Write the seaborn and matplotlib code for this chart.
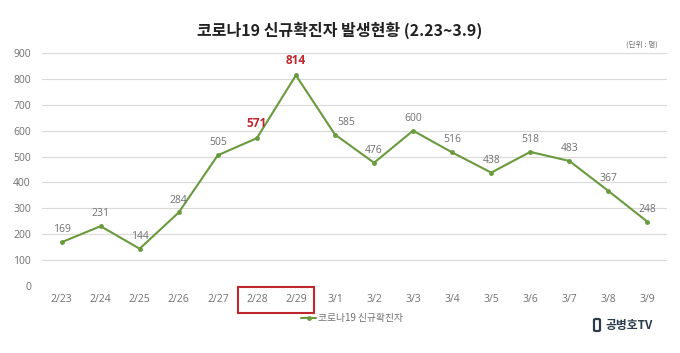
import matplotlib
matplotlib.use("Agg")
import matplotlib.pyplot as plt
import matplotlib.transforms as mtransforms
from matplotlib.patches import Rectangle, FancyBboxPatch
from matplotlib.lines import Line2D
import seaborn as sns
import pandas as pd

dates = ["2/23", "2/24", "2/25", "2/26", "2/27", "2/28", "2/29", "3/1",
         "3/2", "3/3", "3/4", "3/5", "3/6", "3/7", "3/8", "3/9"]
cases = [169, 231, 144, 284, 505, 571, 814, 585, 476, 600, 516, 438, 518, 483, 367, 248]
highlight = ["2/28", "2/29"]
series_name = "코로나19 신규확진자"
title = "코로나19 신규확진자 발생현황 (2.23~3.9)"
yticks = [0, 100, 200, 300, 400, 500, 600, 700, 800, 900]

sns.set_theme(style="white")
plt.rcParams['font.family'] = ['Open Sans', 'Noto Sans CJK KR', 'DejaVu Sans']

GREEN = "#6a9a3e"
GRAY = "#6f6f6f"
RED = "#c0262d"
NAVY = "#2b3a4e"
KR = ['Noto Sans CJK KR', 'DejaVu Sans']

df = pd.DataFrame({"date": dates, "cases": cases})

fig = plt.figure(figsize=(6.8, 3.53), dpi=100)
ax = fig.add_axes([42/680, 1-286/353, (667-42)/680, (286-53)/353])

sns.lineplot(data=df, x="date", y="cases", ax=ax, sort=False, color=GREEN,
             linewidth=1.5, marker="o", markersize=3.5, markeredgewidth=0,
             label=series_name, legend=False)

ax.set_xlim(-0.5, len(dates) - 0.5)
ax.set_ylim(0, 900)
ax.set_yticks(yticks)
ax.set_yticklabels([str(v) for v in yticks])
ax.set_xlabel("")
ax.set_ylabel("")
ax.grid(axis="y", color="#d9d9d9", linewidth=0.8)
ax.grid(axis="x", visible=False)
for s in ax.spines.values():
    s.set_visible(False)
ax.tick_params(axis="both", length=0, labelsize=7.5, labelcolor=GRAY)
ax.tick_params(axis="y", pad=8)
ax.tick_params(axis="x", pad=6)
ax.set_axisbelow(True)

for i, (d, v) in enumerate(zip(dates, cases)):
    if d in highlight:
        ax.annotate(str(v), (i, v), xytext=(0, 6), textcoords="offset points",
                    ha="center", va="bottom", fontsize=8.5, fontweight="bold", color=RED)
    else:
        dx = 8 if d == "3/1" else 0
        ax.annotate(str(v), (i, v), xytext=(dx, 5), textcoords="offset points",
                    ha="center", va="bottom", fontsize=7.5, color=GRAY)

# red box around highlighted ticks
trans = mtransforms.blended_transform_factory(ax.transData, fig.transFigure)
i0 = dates.index(highlight[0]); i1 = dates.index(highlight[-1])
ax.add_patch(Rectangle((i0 - 0.47, 1 - 313/353), (i1 - i0) + 0.94, 26/353,
                       transform=trans, fill=False, edgecolor=RED, linewidth=1.5,
                       clip_on=False))

fig.text(0.5, 1 - 30/353, title, ha="center", va="center", fontsize=11.5,
         fontweight="bold", color="#222222", family=KR)
fig.text(658/680, 1 - 45/353, "(단위 : 명)", ha="right", va="center", fontsize=5.5,
         color=GRAY, family=KR)

# legend
handle = Line2D([], [], color=GREEN, linewidth=1.5, marker="o", markersize=3.5,
                markeredgewidth=0)
leg = fig.legend([handle], [series_name], loc="center", bbox_to_anchor=(352/680, 1 - 318/353),
                 frameon=False, fontsize=7, handlelength=1.6, handletextpad=0.2,
                 labelcolor=GRAY, prop={'family': KR, 'size': 7})

# logo
fig.patches.append(FancyBboxPatch((594/680, 1 - 331/353), 6/680, 12/353,
                                  boxstyle="round,pad=0,rounding_size=0.003",
                                  transform=fig.transFigure, fill=False,
                                  edgecolor=NAVY, linewidth=1.6))
fig.text(605/680, 1 - 325/353, "공병호TV", ha="left", va="center", fontsize=8.5,
         fontweight="bold", color=NAVY, family=KR)

fig.savefig("out.png", dpi=100)
